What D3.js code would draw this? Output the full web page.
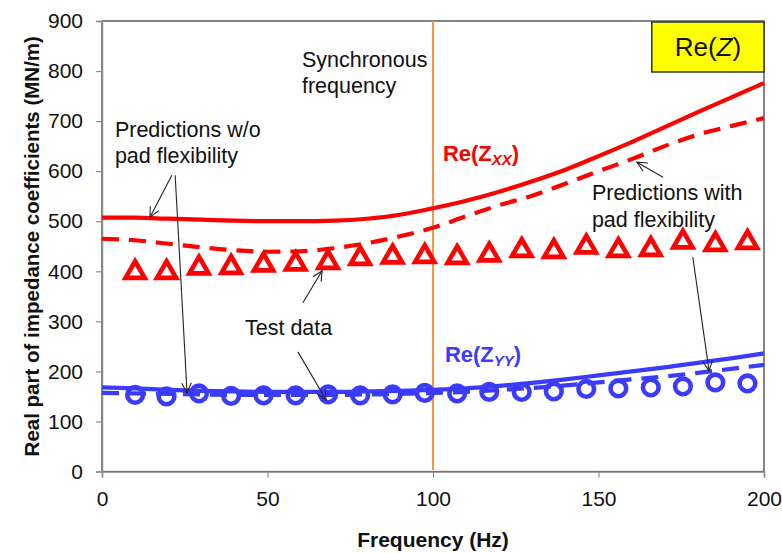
<!DOCTYPE html>
<html>
<head>
<meta charset="utf-8">
<script src="https://cdn.jsdelivr.net/npm/d3@7/dist/d3.min.js"></script>
<style>
  html, body { margin: 0; padding: 0; background: #fff; }
  svg { display: block; font-family: "Liberation Sans", Arial, sans-serif; }
</style>
</head>
<body>
<svg id="chart" width="782" height="553"></svg>
<script>
// Frequency grid (Hz) for the predicted curves
const predFreq = [0, 10, 20, 30, 40, 50, 60, 70, 80, 90, 100, 110, 120, 130, 140, 150, 160, 170, 180, 190, 200];
// Re(Zxx) predictions, MN/m
const xxRigid    = [507, 507, 505, 503, 501, 500, 500, 501, 505, 513, 526, 541, 559, 580, 603, 630, 658, 688, 718, 747, 776];
const xxFlexible = [465, 462, 455, 448, 442, 439, 440, 446, 456, 470, 487, 510, 532, 551, 575, 600, 624, 650, 673, 690, 706];
// Re(Zyy) predictions, MN/m
const yyRigid    = [168, 166, 163, 161, 160, 159, 159, 159, 160, 161, 163, 166, 171, 177, 184, 192, 200, 208, 217, 226, 236];
const yyFlexible = [157, 156, 155, 154, 153, 153, 153, 153, 154, 155, 157, 159, 163, 167, 172, 178, 184, 190, 197, 205, 213];

// Measured test data
const testFreq = [10, 19.5, 29.3, 39, 48.8, 58.5, 68.3, 78, 87.8, 97.5, 107.3, 117, 126.8, 136.5, 146.3, 156, 165.8, 175.5, 185.3, 195];
const testXX   = [404, 404, 413, 414, 419, 421, 424, 432, 435, 436, 434, 439, 448, 446, 455, 448, 450, 465, 460, 464];
const testYY   = [153, 150, 156, 151, 152, 152, 154, 152, 154, 157, 156, 159, 159, 160, 165, 166, 168, 170, 178, 176];

// Axis ticks
const xTicks = [0, 50, 100, 150, 200];
const yTicks = [0, 100, 200, 300, 400, 500, 600, 700, 800, 900];

const syncFreq = 100;

const svg = d3.select("#chart");
const plotLeft = 102, plotRight = 764, plotTop = 21, plotBottom = 471.5;

const x = d3.scaleLinear().domain([0, 200]).range([plotLeft, plotRight]);
const y = d3.scaleLinear().domain([0, 900]).range([plotBottom, plotTop]);

const RED = "#ff0000", BLUE = "#3b3bff", ORANGE = "#f79646";
const FONT = "\"Liberation Sans\", Arial, sans-serif";

// Plot frame
svg.append("rect")
  .attr("x", plotLeft).attr("y", plotTop)
  .attr("width", plotRight - plotLeft).attr("height", plotBottom - plotTop)
  .attr("fill", "#fff").attr("stroke", "#333").attr("stroke-width", 1.2);

// Axes
const xAxis = svg.append("g").attr("transform", `translate(0,${plotBottom})`)
  .call(d3.axisBottom(x).tickValues(xTicks).tickSize(6).tickPadding(9).tickFormat(d3.format("d")));
const yAxis = svg.append("g").attr("transform", `translate(${plotLeft},0)`)
  .call(d3.axisLeft(y).tickValues(yTicks).tickSize(6).tickPadding(13).tickFormat(d3.format("d")));
[xAxis, yAxis].forEach(g => {
  g.select(".domain").attr("stroke", "#8a8a8a").attr("stroke-width", 1.5);
  g.selectAll(".tick line").attr("stroke", "#8a8a8a").attr("stroke-width", 1.2);
  g.selectAll(".tick text").attr("fill", "#111").style("font-size", "21px").style("font-family", FONT);
});
xAxis.selectAll(".tick text").attr("dy", "0.95em");

// Axis titles
svg.append("text")
  .attr("x", x(100)).attr("y", 547)
  .attr("text-anchor", "middle")
  .style("font-size", "21px").style("font-weight", "bold").attr("fill", "#111")
  .text("Frequency (Hz)");
svg.append("text")
  .attr("transform", `translate(39,${(plotTop + plotBottom) / 2}) rotate(-90)`)
  .attr("text-anchor", "middle")
  .style("font-size", "20.5px").style("font-weight", "bold").attr("fill", "#111")
  .text("Real part of impedance coefficients (MN/m)");

// Synchronous frequency marker
svg.append("line")
  .attr("x1", x(syncFreq)).attr("x2", x(syncFreq))
  .attr("y1", y(900)).attr("y2", y(3))
  .attr("stroke", ORANGE).attr("stroke-width", 2);

// Predicted curves
const line = d3.line().x((d, i) => x(predFreq[i])).y(d => y(d)).curve(d3.curveMonotoneX);
const curves = [
  { v: xxRigid, c: RED, dash: null },
  { v: xxFlexible, c: RED, dash: "17,10" },
  { v: yyRigid, c: BLUE, dash: null },
  { v: yyFlexible, c: BLUE, dash: "17,10" }
];
curves.forEach(s => {
  svg.append("path")
    .attr("d", line(s.v))
    .attr("fill", "none").attr("stroke", s.c).attr("stroke-width", 4.2)
    .attr("stroke-dasharray", s.dash);
});

// Test data markers
svg.append("g").selectAll("path")
  .data(testXX)
  .join("path")
  .attr("transform", (d, i) => `translate(${x(testFreq[i])},${y(d)})`)
  .attr("d", "M0,-8L9.6,8.6L-9.6,8.6Z")
  .attr("fill", "none").attr("stroke", RED).attr("stroke-width", 4.6)
  .attr("stroke-linejoin", "miter");
svg.append("g").selectAll("circle")
  .data(testYY)
  .join("circle")
  .attr("cx", (d, i) => x(testFreq[i])).attr("cy", d => y(d))
  .attr("r", 7.8)
  .attr("fill", "none").attr("stroke", BLUE).attr("stroke-width", 4.6);

// Annotation texts (data coordinates)
function label(lines, fx, fy, size) {
  const t = svg.append("text")
    .attr("x", x(fx)).attr("y", y(fy))
    .style("font-size", size + "px").attr("fill", "#111");
  lines.forEach((s, i) => {
    t.append("tspan").attr("x", x(fx)).attr("dy", i === 0 ? 0 : 26.5).text(s);
  });
  return t;
}
label(["Synchronous", "frequency"], 60.4, 809, 21.5);
label(["Predictions w/o", "pad flexibility"], 3.9, 669, 21.5);
label(["Predictions with", "pad flexibility"], 148, 542, 21.5);
label(["Test data"], 43.2, 273, 21.5);

function subLabel(main, sub, fx, fy, color) {
  const t = svg.append("text")
    .attr("x", x(fx)).attr("y", y(fy))
    .style("font-size", "22px").style("font-weight", "bold").attr("fill", color);
  t.append("tspan").text(main);
  t.append("tspan").attr("dy", 4).style("font-size", "15px").style("font-style", "italic").text(sub);
  t.append("tspan").attr("dy", -4).text(")");
}
subLabel("Re(Z", "XX", 103, 621, RED);
subLabel("Re(Z", "YY", 103.6, 219, BLUE);

// Arrows: [tailFreq, tailValue, headFreq, headValue]
const arrows = [
  [21.1, 592, 14.5, 508],
  [22.1, 592, 25.7, 157],
  [60.7, 337, 66.5, 401],
  [59.2, 239, 67.7, 143],
  [169.5, 588, 161.6, 618],
  [178.5, 428, 183.4, 201]
];
arrows.forEach(([f0, v0, f1, v1]) => {
  const x0 = x(f0), y0 = y(v0), x1 = x(f1), y1 = y(v1);
  const ang = Math.atan2(y1 - y0, x1 - x0);
  const len = 11, spread = 0.45;
  const g = svg.append("g").attr("stroke", "#222").attr("stroke-width", 1.1).attr("fill", "none");
  g.append("line").attr("x1", x0).attr("y1", y0).attr("x2", x1).attr("y2", y1);
  g.append("path").attr("d",
    `M${x1 - len * Math.cos(ang - spread)},${y1 - len * Math.sin(ang - spread)}` +
    `L${x1},${y1}` +
    `L${x1 - len * Math.cos(ang + spread)},${y1 - len * Math.sin(ang + spread)}`);
});

// Title box
const bx0 = x(166.1), bx1 = plotRight, by0 = plotTop + 1, by1 = plotTop + 51;
svg.append("rect")
  .attr("x", bx0).attr("y", by0).attr("width", bx1 - bx0).attr("height", by1 - by0)
  .attr("fill", "#ffff00").attr("stroke", "#333").attr("stroke-width", 1.5);
const tt = svg.append("text")
  .attr("x", (bx0 + bx1) / 2).attr("y", by0 + 34)
  .attr("text-anchor", "middle")
  .style("font-size", "26px").attr("fill", "#111");
tt.append("tspan").text("Re(");
tt.append("tspan").style("font-style", "italic").text("Z");
tt.append("tspan").text(")");
</script>
</body>
</html>
